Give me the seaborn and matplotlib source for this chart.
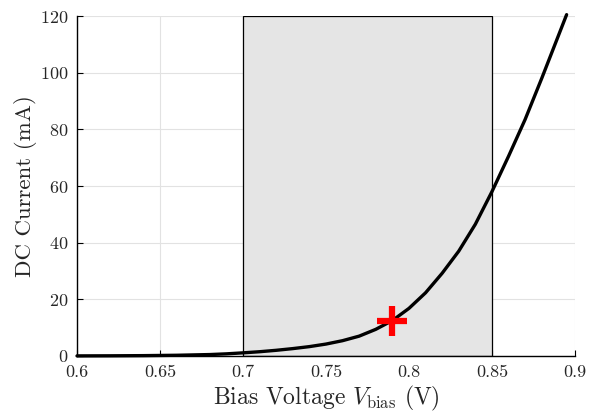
import matplotlib
matplotlib.use("Agg")
import matplotlib.pyplot as plt
from matplotlib.patches import Rectangle
import seaborn as sns
import pandas as pd

# Diode DC characteristic: bias voltage (V) vs DC current (mA)
bias_voltage = [0.60, 0.62, 0.64, 0.66, 0.68, 0.69, 0.70, 0.71, 0.72, 0.73,
                0.74, 0.75, 0.76, 0.77, 0.78, 0.79, 0.80, 0.81, 0.82, 0.83,
                0.84, 0.85, 0.86, 0.87, 0.88, 0.89, 0.895]
dc_current = [0.03, 0.06, 0.12, 0.25, 0.5, 0.75, 1.1, 1.5, 2.0, 2.6,
              3.3, 4.2, 5.4, 7.0, 9.4, 12.5, 16.8, 22.3, 29.2, 37.0,
              46.5, 58.0, 70.5, 83.5, 98.0, 113.0, 120.5]

# Selected operating point
op_voltage = [0.79]
op_current = [12.5]

# Allowed bias window
window = (0.70, 0.85)

x_ticks = [0.6, 0.65, 0.7, 0.75, 0.8, 0.85, 0.9]
x_tick_labels = ["0.6", "0.65", "0.7", "0.75", "0.8", "0.85", "0.9"]
y_ticks = [0, 20, 40, 60, 80, 100, 120]

sns.set_theme(style="whitegrid")
plt.rcParams.update({
    "font.family": ["cmr10", "DejaVu Serif"],
    "mathtext.fontset": "cm",
    "axes.formatter.use_mathtext": True,
    "axes.unicode_minus": False,
})

curve = pd.DataFrame({"V": bias_voltage, "I": dc_current})
point = pd.DataFrame({"V": op_voltage, "I": op_current})

fig = plt.figure(figsize=(5.97, 4.12), dpi=100)
ax = fig.add_axes([0.129, 0.136, 0.834, 0.825])
ax.set_facecolor("white")

ax.add_patch(Rectangle((window[0], 0), window[1] - window[0], 120,
                       facecolor="#e5e5e5", edgecolor="black", linewidth=0.9,
                       zorder=1))

sns.lineplot(data=curve, x="V", y="I", ax=ax, color="black", linewidth=2.4,
             zorder=3, clip_on=False)
ax.plot(point["V"], point["I"], marker="+", color="red", markersize=22,
        markeredgewidth=4.5, linestyle="none", zorder=4)

ax.set_xlim(0.6, 0.9)
ax.set_ylim(0, 120)
ax.set_xticks(x_ticks)
ax.set_xticklabels(x_tick_labels)
ax.set_yticks(y_ticks)

ax.grid(True, color="#e2e2e2", linewidth=0.8)
ax.set_axisbelow(True)

for side in ["top", "right"]:
    ax.spines[side].set_visible(False)
for side in ["left", "bottom"]:
    ax.spines[side].set_visible(True)
    ax.spines[side].set_color("black")
    ax.spines[side].set_linewidth(1.0)

ax.tick_params(axis="both", which="major", direction="in", length=4,
               width=0.8, color="black", labelsize=13, pad=6,
               bottom=True, left=True, top=False, right=False)

ax.set_xlabel(r"Bias Voltage $V_{\mathrm{bias}}$ (V)", fontsize=17, labelpad=3)
ax.set_ylabel("DC Current (mA)", fontsize=16.5, labelpad=2)

fig.savefig("out.png", dpi=100)
